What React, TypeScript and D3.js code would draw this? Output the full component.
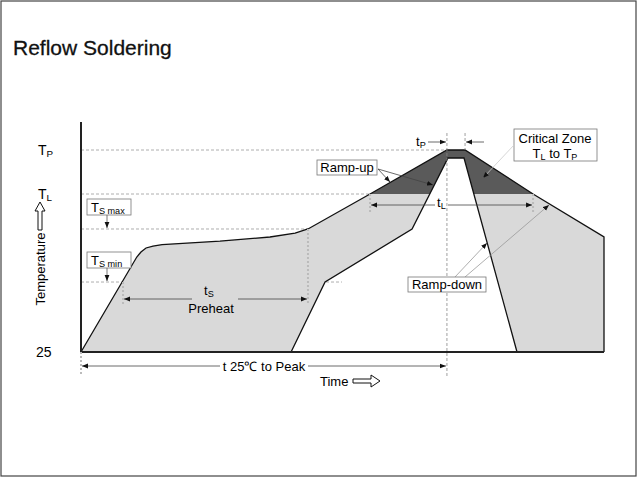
import React from 'react';
import * as d3 from 'd3';

// time (s, schematic) / temperature (°C, schematic)
const outerTime = [0, 32, 34.4, 37.3, 41.3, 46.5, 79.7, 108.4, 122.8, 130.2, 165.8, 209.9, 220.3, 259.3, 300, 300];
const outerTemp = [25, 135.5, 141.3, 146, 148.3, 150, 154, 158.8, 163.4, 168.1, 208.8, 260, 260, 208.8, 158.8, 25];
const innerTime = [120.5, 140, 189.9, 210.5, 219.7, 250.1];
const innerTemp = [25, 106.4, 168.1, 250.7, 250.7, 25];

const levelNames = ['TP', 'TL', 'TSmax', 'TSmin'];
const levelTemps = [260, 208.8, 168.1, 106.4];
const levelEnds = [209.9, 165.8, 189.9, 149.7];

const W = 637;
const H = 477;
const FONT = '"Liberation Sans", Arial, sans-serif';

const x = d3.scaleLinear().domain([0, 300]).range([81, 604]);
const y = d3.scaleLinear().domain([25, 260]).range([352, 150]);

type P = [number, number];
const outer: P[] = outerTime.map((t, i) => [t, outerTemp[i]]);
const inner: P[] = innerTime.map((t, i) => [t, innerTemp[i]]);

const line = d3.line<P>().x(d => x(d[0])).y(d => y(d[1]));
const band = line([...outer, ...inner.slice().reverse()]) + 'Z';

function Sub({ main, sub, x: tx, y: ty, size = 13, anchor = 'start' }: any) {
  return (
    <text x={tx} y={ty} fontSize={size} textAnchor={anchor} fontFamily={FONT}>
      {main}
      <tspan fontSize={size * 0.7} dy={2}>{sub}</tspan>
    </text>
  );
}

export default function App() {
  const tTL = y(levelTemps[1]);
  const arrow = (id: string) => `url(#${id})`;
  const grey = '#777';
  const dotted = { stroke: '#bbb', strokeWidth: 2, strokeDasharray: '2,2' };

  return (
    <svg width={W} height={H} style={{ position: 'absolute', left: 0, top: 0, background: '#fff' }}>
      <defs>
        <marker id="ah" viewBox="0 0 10 10" refX="10" refY="5" markerWidth="6" markerHeight="6" orient="auto-start-reverse" markerUnits="userSpaceOnUse">
          <path d="M0,1 L10,5 L0,9 Z" fill="#111" />
        </marker>
        <clipPath id="above">
          <rect x={0} y={0} width={W} height={tTL} />
        </clipPath>
      </defs>
      <rect x={1} y={1} width={W - 2} height={H - 2} fill="#fff" stroke="#444" strokeWidth={1.2} />
      <text x={13} y={55} fontSize={21} fontFamily={FONT} fill="#111" stroke="#111" strokeWidth={0.3}>Reflow Soldering</text>

      {/* level guide lines */}
      {levelTemps.map((v, i) => (
        <line key={levelNames[i]} x1={x(0)} x2={x(levelEnds[i])} y1={y(v)} y2={y(v)} stroke="#999" strokeWidth={0.8} strokeDasharray="3,2" />
      ))}

      {/* profile band */}
      <path d={band} fill="#d9d9d9" />
      <path d={band} fill="#5a5a5a" clipPath="url(#above)" />
      <path d={line(outer) || ''} fill="none" stroke="#111" strokeWidth={1.3} />
      <path d={line(inner) || ''} fill="none" stroke="#111" strokeWidth={1.3} />

      {/* axes */}
      <line x1={x(0)} x2={x(0)} y1={122} y2={y(25)} stroke="#222" strokeWidth={2} />
      <line x1={x(0)} x2={x(300)} y1={y(25)} y2={y(25)} stroke="#222" strokeWidth={2} />

      {/* level labels */}
      <Sub main="T" sub="P" x={38} y={y(levelTemps[0]) + 5} size={14} />
      <Sub main="T" sub="L" x={38} y={y(levelTemps[1]) + 5} size={14} />
      <text x={36} y={y(25) + 5} fontSize={14} fontFamily={FONT}>25</text>

      {/* Ts max / min boxes */}
      <rect x={87} y={199} width={44} height={16} fill="#fff" stroke={grey} strokeWidth={0.8} />
      <Sub main="T" sub="S max" x={91} y={212} size={13} />
      <line x1={107} x2={107} y1={215} y2={y(levelTemps[2]) - 1} stroke="#555" strokeWidth={0.8} markerEnd={arrow('ah')} />
      <rect x={87} y={252} width={44} height={16} fill="#fff" stroke={grey} strokeWidth={0.8} />
      <Sub main="T" sub="S min" x={91} y={265} size={13} />
      <line x1={107} x2={107} y1={268} y2={y(levelTemps[3]) - 1} stroke="#555" strokeWidth={0.8} markerEnd={arrow('ah')} />

      {/* Temperature label */}
      <text transform={`translate(45,269) rotate(-90)`} textAnchor="middle" fontSize={13} fontFamily={FONT}>Temperature</text>
      <path d="M38,230 L38,211 L35,211 L40,202 L45,211 L42,211 L42,230 Z" fill="#fff" stroke="#111" strokeWidth={1} />

      {/* tS preheat */}
      <line x1={x(24.1)} x2={x(24.1)} y1={y(levelTemps[3])} y2={305} {...dotted} />
      <line x1={x(130.2)} x2={x(130.2)} y1={y(levelTemps[2])} y2={305} {...dotted} />
      <line x1={192} x2={x(24.1) + 1} y1={299} y2={299} stroke="#444" strokeWidth={0.8} markerEnd={arrow('ah')} />
      <line x1={238} x2={x(130.2) - 1} y1={299} y2={299} stroke="#444" strokeWidth={0.8} markerEnd={arrow('ah')} />
      <Sub main="t" sub="S" x={204} y={295} size={13} />
      <text x={211} y={313} textAnchor="middle" fontSize={13} fontFamily={FONT}>Preheat</text>

      {/* tL */}
      <line x1={x(165.8)} x2={x(165.8)} y1={tTL} y2={214} {...dotted} />
      <line x1={x(259.3)} x2={x(259.3)} y1={tTL} y2={214} {...dotted} />
      <line x1={435} x2={x(165.8) + 1} y1={205} y2={205} stroke="#444" strokeWidth={0.8} markerEnd={arrow('ah')} />
      <line x1={448} x2={x(259.3) - 1} y1={205} y2={205} stroke="#444" strokeWidth={0.8} markerEnd={arrow('ah')} />
      <Sub main="t" sub="L" x={437} y={207} size={13} />

      {/* tP */}
      <line x1={x(209.9)} x2={x(209.9)} y1={133} y2={376} stroke="#888" strokeWidth={0.8} strokeDasharray="3,2" />
      <line x1={x(220.3)} x2={x(220.3)} y1={133} y2={150} stroke="#888" strokeWidth={0.8} strokeDasharray="3,2" />
      <Sub main="t" sub="P" x={416} y={146} size={13} />
      <line x1={428} x2={x(209.9) - 1} y1={142} y2={142} stroke="#444" strokeWidth={0.8} markerEnd={arrow('ah')} />
      <line x1={484} x2={x(220.3) + 1} y1={142} y2={142} stroke="#444" strokeWidth={0.8} markerEnd={arrow('ah')} />

      {/* Critical zone */}
      <rect x={514} y={129} width={83} height={32} fill="#fff" stroke={grey} strokeWidth={0.8} />
      <text x={555} y={143} textAnchor="middle" fontSize={13} fontFamily={FONT}>Critical Zone</text>
      <text x={555} y={158} textAnchor="middle" fontSize={13} fontFamily={FONT}>
        T<tspan fontSize={9} dy={2}>L</tspan><tspan dy={-2}> to T</tspan><tspan fontSize={9} dy={2}>P</tspan>
      </text>
      <line x1={514} y1={145} x2={483} y2={178} stroke="#ccc" strokeWidth={0.8} markerEnd={arrow('ah')} />

      {/* Ramp-up */}
      <rect x={317} y={160} width={60} height={15} fill="#fff" stroke={grey} strokeWidth={0.8} />
      <text x={347} y={172} textAnchor="middle" fontSize={13} fontFamily={FONT}>Ramp-up</text>
      <line x1={378} y1={169} x2={390} y2={182} stroke="#444" strokeWidth={0.8} markerEnd={arrow('ah')} />
      <line x1={378} y1={169} x2={433} y2={185} stroke="#444" strokeWidth={0.8} markerEnd={arrow('ah')} />

      {/* Ramp-down */}
      <line x1={455} y1={277} x2={487} y2={243} stroke="#999" strokeWidth={0.8} markerEnd={arrow('ah')} />
      <line x1={465} y1={277} x2={549} y2={205} stroke="#999" strokeWidth={0.8} markerEnd={arrow('ah')} />
      <rect x={408} y={277} width={78} height={15} fill="#fff" stroke={grey} strokeWidth={0.8} />
      <text x={447} y={289} textAnchor="middle" fontSize={13} fontFamily={FONT}>Ramp-down</text>

      {/* t 25°C to peak */}
      <line x1={x(0)} x2={x(0)} y1={y(25)} y2={376} {...dotted} />
      <line x1={220} x2={x(0) + 1} y1={366} y2={366} stroke="#444" strokeWidth={0.8} markerEnd={arrow('ah')} />
      <line x1={308} x2={x(209.9) - 1} y1={366} y2={366} stroke="#444" strokeWidth={0.8} markerEnd={arrow('ah')} />
      <text x={264} y={371} textAnchor="middle" fontSize={13} fontFamily={FONT}>t 25℃ to Peak</text>

      {/* Time label */}
      <text x={320} y={386} fontSize={13} fontFamily={FONT}>Time</text>
      <path d="M353,379 L371,379 L371,375 L380,381 L371,387 L371,383 L353,383 Z" fill="#fff" stroke="#111" strokeWidth={1} />
    </svg>
  );
}
